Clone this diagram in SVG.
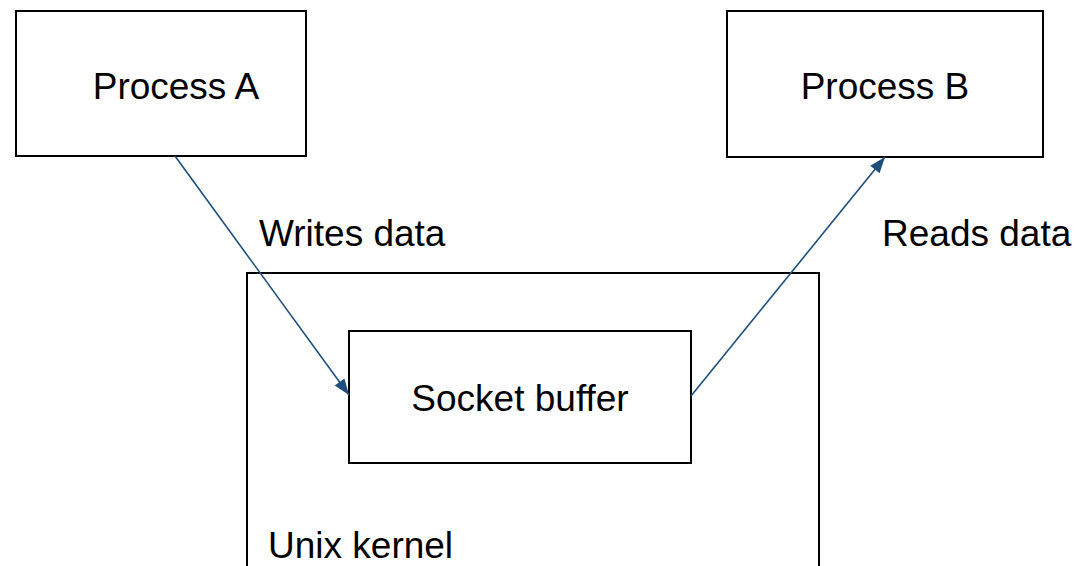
<svg xmlns="http://www.w3.org/2000/svg" width="1074" height="566" viewBox="0 0 1074 566">
  <style>
    .box { fill: #ffffff; stroke: #000000; stroke-width: 2; }
    .lbl { font-family: "Liberation Sans", Arial, sans-serif; font-size: 37px; fill: #000000; }
    .conn { stroke: #1f4e7d; stroke-width: 1.6; fill: none; marker-end: url(#arrow); }
  </style>
  <defs>
    <marker id="arrow" viewBox="0 0 16 12" refX="16" refY="6" markerWidth="16" markerHeight="12" markerUnits="userSpaceOnUse" orient="auto" overflow="visible">
      <path d="M0,0 L16,6 L0,12 z" fill="#1f4e7d"/>
    </marker>
  </defs>
  <rect width="1074" height="566" fill="#ffffff"/>
  <g id="kernel">
    <rect class="box" x="247" y="273" width="572" height="310"/>
    <text class="lbl" x="268" y="558">Unix kernel</text>
  </g>
  <g id="processA">
    <rect class="box" x="16" y="11" width="290" height="145"/>
    <text class="lbl" x="176" y="99" text-anchor="middle">Process A</text>
  </g>
  <g id="processB">
    <rect class="box" x="727" y="11" width="316" height="146"/>
    <text class="lbl" x="885" y="99" text-anchor="middle">Process B</text>
  </g>
  <g id="socket">
    <rect class="box" x="349" y="331" width="342" height="132"/>
    <text class="lbl" x="520" y="411" text-anchor="middle">Socket buffer</text>
  </g>
  <g id="connectors">
    <line class="conn" x1="175" y1="156" x2="349" y2="395"/>
    <line class="conn" x1="691" y1="396" x2="885" y2="157"/>
    <text class="lbl" x="259" y="246">Writes data</text>
    <text class="lbl" x="882" y="246">Reads data</text>
  </g>
</svg>
